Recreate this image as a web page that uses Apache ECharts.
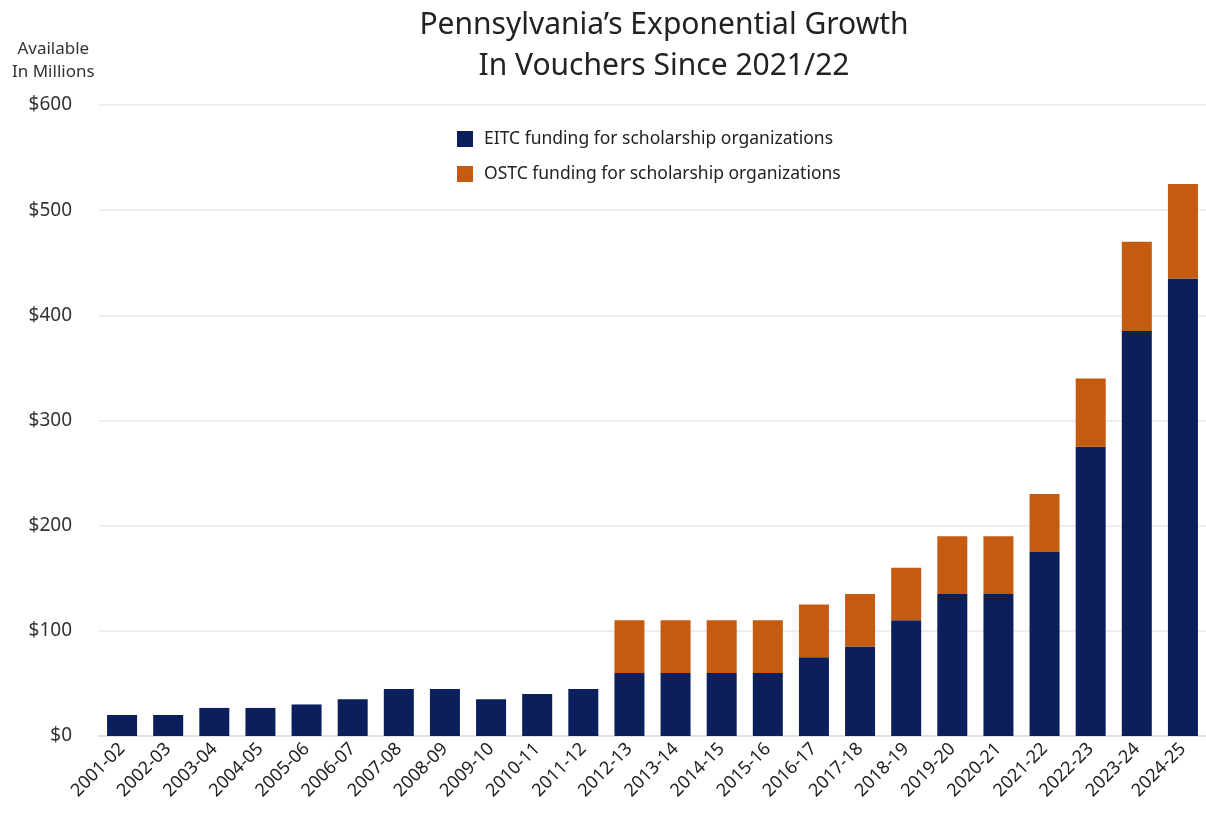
<!DOCTYPE html>
<html>
<head>
<meta charset="utf-8">
<script src="https://cdn.jsdelivr.net/npm/echarts@6/dist/echarts.min.js"></script>
<style>
  html, body { margin: 0; padding: 0; background: #fff; }
  #chart { width: 1206px; height: 814px; }
</style>
</head>
<body>
<div id="chart"></div>
<script>
// school years on the x axis
const years = ['2001-02', '2002-03', '2003-04', '2004-05', '2005-06', '2006-07', '2007-08', '2008-09',
  '2009-10', '2010-11', '2011-12', '2012-13', '2013-14', '2014-15', '2015-16', '2016-17', '2017-18',
  '2018-19', '2019-20', '2020-21', '2021-22', '2022-23', '2023-24', '2024-25']
// millions of dollars
const eitc = [20, 20, 26.7, 26.7, 30, 35, 44.7, 44.7, 35, 40, 44.7, 60, 60, 60, 60, 75, 85, 110, 135, 135, 175, 275, 385, 435]
const ostc = [0, 0, 0, 0, 0, 0, 0, 0, 0, 0, 0, 50, 50, 50, 50, 50, 50, 50, 55, 55, 55, 65, 85, 90]
const yTicks = [0, 100, 200, 300, 400, 500, 600]

const font = 'Noto Sans'
const chart = echarts.init(document.getElementById('chart'))

chart.setOption({
  animation: false,
  textStyle: { fontFamily: font },
  title: {
    text: 'Pennsylvania\u2019s Exponential Growth\nIn Vouchers Since 2021/22',
    left: 659,
    top: 0,
    textAlign: 'center',
    textStyle: { fontSize: 30, fontWeight: 'normal', color: '#222', lineHeight: 41, fontFamily: font }
  },
  graphic: [{
    type: 'text',
    left: 12,
    top: 38,
    style: { text: 'Available\nIn Millions', fill: '#333', font: '17px "Noto Sans"', lineHeight: 23, textAlign: 'center', x: 38 }
  }],
  legend: {
    orient: 'vertical',
    left: 452,
    top: 125,
    itemWidth: 16,
    itemHeight: 16,
    itemGap: 17,
    icon: 'rect',
    textStyle: { fontSize: 17.5, color: '#222', padding: [0, 0, 0, 6] },
    data: ['EITC funding for scholarship organizations', 'OSTC funding for scholarship organizations']
  },
  grid: { left: 99, right: -4, top: 105, bottom: 78 },
  xAxis: {
    type: 'category',
    data: years,
    axisTick: { show: false },
    axisLine: { lineStyle: { color: '#ddd', width: 1.5 } },
    axisLabel: { rotate: 45, fontSize: 18, color: '#222', margin: 10, interval: 0 }
  },
  yAxis: {
    type: 'value',
    min: yTicks[0],
    max: yTicks[yTicks.length - 1],
    interval: 100,
    axisLabel: { formatter: '${value}', fontSize: 19, color: '#333', margin: 27 },
    splitLine: { lineStyle: { color: '#e9e9e9', width: 1.5 } }
  },
  series: [
    {
      name: 'EITC funding for scholarship organizations',
      type: 'bar',
      stack: 'total',
      barWidth: 30,
      itemStyle: { color: '#0b1f5c' },
      data: eitc
    },
    {
      name: 'OSTC funding for scholarship organizations',
      type: 'bar',
      stack: 'total',
      barWidth: 30,
      itemStyle: { color: '#c55a11' },
      data: ostc
    }
  ]
})
</script>
</body>
</html>
